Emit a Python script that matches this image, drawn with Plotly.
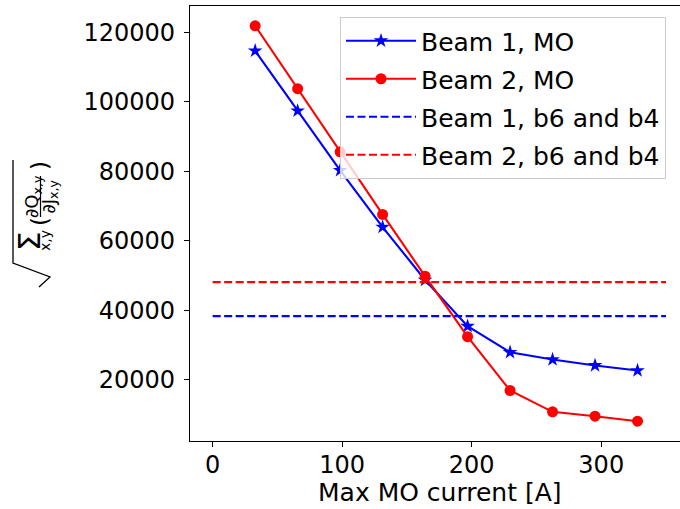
import plotly.graph_objects as go

# Max MO current [A] at each scan step
current = [32.8, 65.6, 98.4, 131.2, 164.0, 196.8, 229.6, 262.4, 295.2, 328.0]

# Detuning metric vs. MO current for both beams
beam1_mo = [114700, 97400, 80300, 63950, 48700, 35400, 27900, 25800, 24100, 22650]
beam2_mo = [121900, 103800, 85600, 67600, 49800, 32400, 16900, 10750, 9500, 8050]

# Reference levels from b6 and b4 correction
ref_span = [0, 350]
beam1_b6b4 = 38300
beam2_b6b4 = 48100

x_ticks = [0, 100, 200, 300]
y_ticks = [20000, 40000, 60000, 80000, 100000, 120000]

FONT = "DejaVu Sans"
FS = 25
TICK_FS = 24
DASH = "8px,3.5px"

W, H = 680, 509
ML, MR, MT, MB = 190, 0, 6, 68
PW, PH = W - ML - MR, H - MT - MB


def px(x):
    """Pixel x -> paper x."""
    return (x - ML) / PW


def py(y):
    """Pixel y (from top) -> paper y."""
    return (H - MB - y) / PH


fig = go.Figure()
fig.add_trace(go.Scatter(
    x=current, y=beam1_mo, mode="lines+markers", name="Beam 1, MO",
    line=dict(color="blue", width=2.1),
    marker=dict(symbol="star", size=11, color="blue"),
    legendgroup="a"))
fig.add_trace(go.Scatter(
    x=current, y=beam2_mo, mode="lines+markers", name="Beam 2, MO",
    line=dict(color="red", width=2.1),
    marker=dict(symbol="circle", size=11, color="red"),
    legendgroup="b"))
fig.add_trace(go.Scatter(
    x=ref_span, y=[beam1_b6b4] * 2, mode="lines", name="Beam 1, b6 and b4",
    line=dict(color="blue", width=2.1, dash=DASH), legendgroup="c"))
fig.add_trace(go.Scatter(
    x=ref_span, y=[beam2_b6b4] * 2, mode="lines", name="Beam 2, b6 and b4",
    line=dict(color="red", width=2.1, dash=DASH), legendgroup="d"))

axis_common = dict(
    showgrid=False, zeroline=False, showline=True, linecolor="black", linewidth=1.1,
    ticks="outside", ticklen=5, tickwidth=1.1, tickcolor="black",
    tickfont=dict(family=FONT, size=TICK_FS, color="black"),
    tickformat="d",
)

fig.update_xaxes(range=[-17.5, 360.8], tickvals=x_ticks, mirror=True,
                 ticklabelstandoff=-3, **axis_common)
fig.update_yaxes(range=[2357, 127593], tickvals=y_ticks, ticklabelstandoff=4, **axis_common)

lab_font = lambda s: dict(family=FONT, size=s, color="black")


def rot_text(text, x, y, size):
    return dict(text=text, xref="paper", yref="paper", x=px(x), y=py(y),
                xanchor="center", yanchor="middle", textangle=-90,
                showarrow=False, font=lab_font(size), borderpad=0)


# y-axis label: sqrt( sum_{x,y} (dQ_{x,y} / dJ_{x,y}) ), built from rotated pieces
ylabel_parts = [
    rot_text("Σ", 28.5, 241.5, 31),
    rot_text("x,y", 45, 241, 14),
    rot_text("(", 40, 222, 23),
    rot_text("∂Q<sub>x,y</sub>", 32.5, 196.5, 18),
    rot_text("∂J<sub>x,y</sub>", 49, 196.5, 18),
    rot_text(")", 40, 166, 23),
]

radical = "M {} {} L {} {} L {} {} L {} {}".format(
    px(39), py(287), px(50), py(277), px(13), py(263), px(13), py(160))

fig.update_layout(
    width=W, height=H,
    margin=dict(l=ML, r=MR, t=MT, b=MB),
    paper_bgcolor="white", plot_bgcolor="white",
    font=dict(family=FONT, size=FS, color="black"),
    showlegend=True,
    legend=dict(
        x=px(340), y=py(17), xanchor="left", yanchor="top",
        bgcolor="rgba(255,255,255,0.8)", bordercolor="#cccccc", borderwidth=1,
        font=lab_font(FS),
        tracegroupgap=2.5, itemwidth=70,
    ),
    annotations=[
        dict(text="Max MO current [A]", xref="paper", yref="paper",
             x=px(440), y=py(509), xanchor="center", yanchor="bottom",
             showarrow=False, font=lab_font(FS)),
    ] + ylabel_parts,
    shapes=[
        dict(type="path", path=radical, xref="paper", yref="paper",
             line=dict(color="black", width=1.3)),
        dict(type="line", xref="paper", yref="paper",
             x0=px(40.5), x1=px(40.5), y0=py(176), y1=py(217),
             line=dict(color="black", width=1.2)),
    ],
)

fig.write_html("out.html")
